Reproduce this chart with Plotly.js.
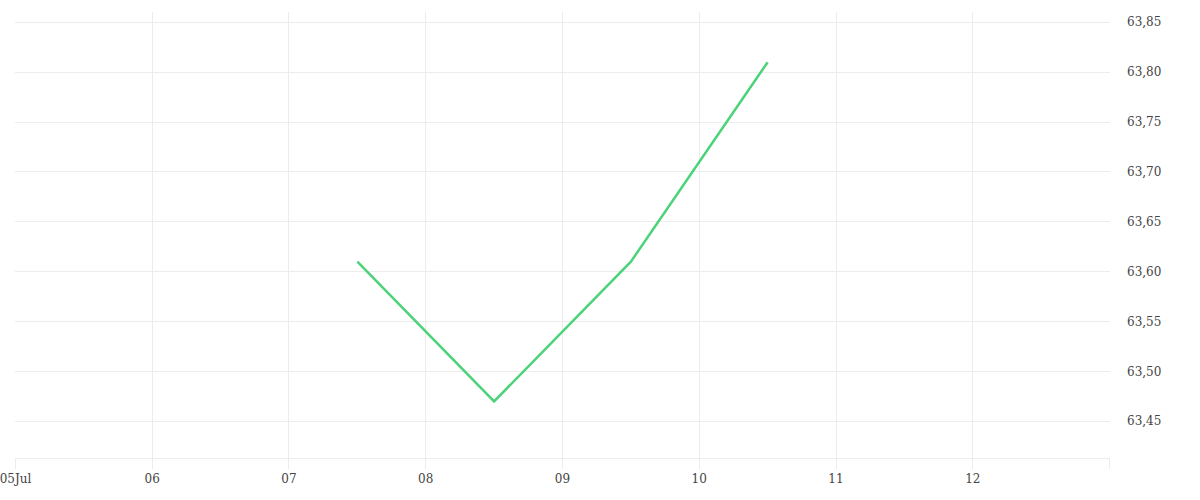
<!DOCTYPE html>
<html>
<head>
<meta charset="utf-8">
<script src="https://cdn.plot.ly/plotly-3.0.1.min.js"></script>
<style>
  html, body { margin: 0; padding: 0; background: #fff; }
  #chart { width: 1200px; height: 500px; }
</style>
</head>
<body>
<div id="chart"></div>
<script>
// series values
const pointDates = ["2024-07-07 12:00", "2024-07-08 12:00", "2024-07-09 12:00", "2024-07-10 12:00"];
const pointValues = [63.61, 63.47, 63.61, 63.81];

// x tick labels (the last gridline at 13 has no label)
const dayTicks = ["2024-07-05", "2024-07-06", "2024-07-07", "2024-07-08", "2024-07-09",
                  "2024-07-10", "2024-07-11", "2024-07-12", "2024-07-13"];
const dayLabels = ["05Jul", "06", "07", "08", "09", "10", "11", "12", ""];

const gridColor = "#ececec";

var data = [{
    x: pointDates,
    y: pointValues,
    type: "scatter",
    mode: "lines",
    line: {color: "#4cd37a", width: 2.5},
    hoverinfo: "x+y"
}];

const layout = {
    width: 1200,
    height: 500,
    margin: {l: 15, r: 90, t: 12, b: 42},
    paper_bgcolor: "#fff",
    plot_bgcolor: "#fff",
    separators: ", ",
    showlegend: false,
    font: {family: "DejaVu Serif, serif", size: 12, color: "#444"},
    xaxis: {
        type: "date",
        // a few minutes of slack so the edge gridlines and the first label are kept
        range: ["2024-07-04 23:55", "2024-07-13 00:05"],
        tickvals: dayTicks,
        ticktext: dayLabels,
        showgrid: true,
        gridcolor: gridColor,
        ticks: "outside",
        ticklen: 10,
        tickcolor: gridColor,
        showline: true,
        linecolor: gridColor,
        zeroline: false,
        ticklabeloverflow: "allow",
        tickfont: {size: 12, color: "#444"}
    },
    yaxis: {
        side: "right",
        range: [63.4132, 63.8603],
        dtick: 0.05,
        tick0: 63.45,
        tickformat: ".2f",
        showgrid: true,
        gridcolor: gridColor,
        ticks: "",
        ticklabelstandoff: 16,
        zeroline: false,
        showline: false,
        tickfont: {size: 12, color: "#444"}
    }
};

Plotly.newPlot("chart", data, layout, {displayModeBar: false, staticPlot: true});
</script>
</body>
</html>
